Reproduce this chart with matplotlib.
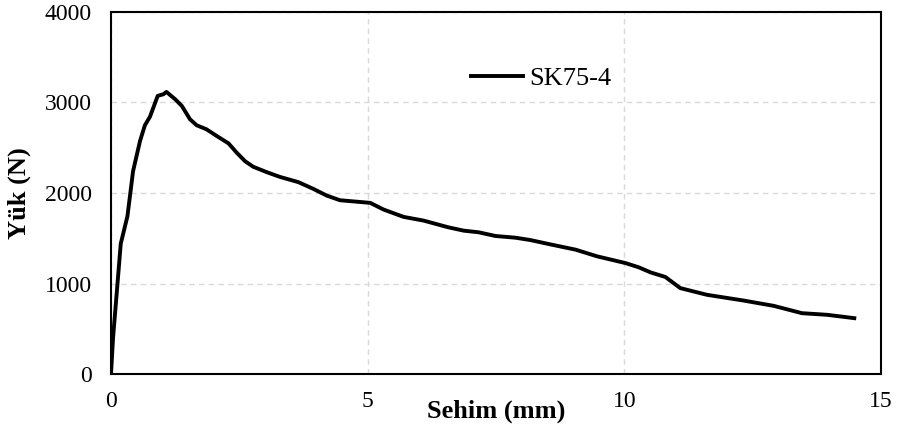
import matplotlib
matplotlib.use("Agg")
import matplotlib.pyplot as plt

deflection = [0.0, 0.04, 0.19, 0.32, 0.43, 0.565, 0.66, 0.76, 0.91, 1.02, 1.08, 1.25, 1.38,
              1.54, 1.67, 1.86, 2.06, 2.29, 2.45, 2.61, 2.77, 3.03, 3.29, 3.65, 3.94,
              4.20, 4.46, 5.05, 5.31, 5.70, 6.09, 6.57, 6.87, 7.16, 7.49, 7.88, 8.17,
              8.56, 9.05, 9.47, 10.02, 10.28, 10.51, 10.80, 11.09, 11.61, 12.32, 12.91,
              13.46, 13.95, 14.48]
load = [0, 400, 1440, 1743, 2242, 2574, 2748, 2844, 3073, 3091, 3117, 3036, 2962,
        2814, 2748, 2704, 2630, 2548, 2445, 2352, 2290, 2231, 2178, 2120, 2046,
        1972, 1920, 1891, 1817, 1736, 1695, 1621, 1584, 1566, 1525, 1506, 1480,
        1432, 1374, 1300, 1226, 1179, 1123, 1072, 949, 875, 812, 753,
        672, 654, 617]
series_name = "SK75-4"
x_ticks = [0, 5, 10, 15]
y_ticks = [0, 1000, 2000, 3000, 4000]

plt.rcParams['font.family'] = ['Liberation Serif', 'DejaVu Serif']

fig = plt.figure(figsize=(9.04, 4.36), dpi=100)
ax = fig.add_axes([111/904, 1-374/436, (881-111)/904, (374-12)/436])
ax.plot(deflection, load, color='black', linewidth=2.8, label=series_name,
        solid_joinstyle='round')
ax.set_xlim(0, 15)
ax.set_ylim(0, 4000)
ax.set_xticks(x_ticks)
ax.set_yticks(y_ticks)
ax.tick_params(length=0, labelsize=17)
ax.tick_params(axis='y', pad=14)
ax.tick_params(axis='x', pad=12)
ax.grid(True, color='#d9d9d9', linestyle=(0, (4, 3)), linewidth=1.0)
ax.set_axisbelow(True)
for s in ax.spines.values():
    s.set_linewidth(1.5)
    s.set_color('black')
ax.set_xlabel('Sehim (mm)', fontsize=19, fontweight='bold', labelpad=-9)
ax.set_ylabel('Yük (N)', fontsize=19, fontweight='bold', labelpad=10)
leg = ax.legend(loc='center left', bbox_to_anchor=(0.468, 0.817), frameon=False,
                fontsize=19, handlelength=1.97, handletextpad=0.23, borderpad=0,
                borderaxespad=0)
fig.savefig('out.png', dpi=100, facecolor='white')
